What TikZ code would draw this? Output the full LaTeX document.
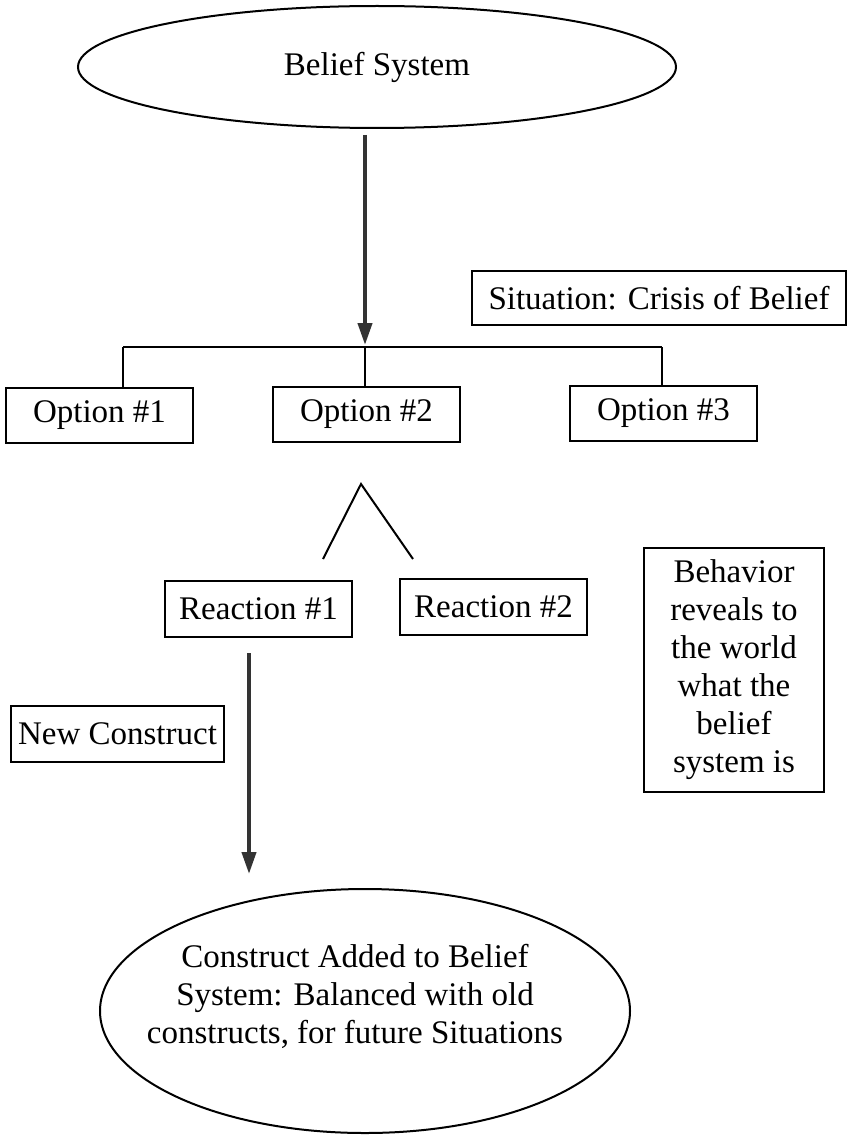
\documentclass[tikz,border=0pt]{standalone}
\usepackage{fontspec}
\setmainfont{Liberation Serif}
\usetikzlibrary{shapes.geometric,arrows.meta}
\definecolor{arrowgray}{HTML}{333333}
\begin{document}
\begin{tikzpicture}[x=1pt,y=-1pt,
  every node/.style={font=\fontsize{33}{38}\selectfont, inner sep=0pt},
  box/.style={draw, line width=2pt, rectangle, align=center},
  oval/.style={draw, line width=2pt, ellipse, align=center},
  conn/.style={line width=2pt},
  bigarrow/.style={line width=4pt, draw=arrowgray, -{Triangle[length=22pt,width=14pt]}, arrowgray}]
\fill[white] (0,0) rectangle (851,1137);
\useasboundingbox (0,0) rectangle (851,1137);

% nodes
\node[oval, minimum width=598pt, minimum height=122pt] (belief) at (377,67) {Belief System};
\node[box, minimum width=374pt, minimum height=54pt] (situation) at (659,298) {Situation: Crisis of Belief};
\node[box, minimum width=187pt, minimum height=55pt] (opt1) at (99.5,415.5) {Option \#1};
\node[box, minimum width=187pt, minimum height=55pt] (opt2) at (366.5,414.5) {Option \#2};
\node[box, minimum width=187pt, minimum height=55pt] (opt3) at (663.5,413.5) {Option \#3};
\node[box, minimum width=187pt, minimum height=56pt] (react1) at (258.5,609) {Reaction \#1};
\node[box, minimum width=187pt, minimum height=56pt] (react2) at (493.5,607) {Reaction \#2};
\node[box, minimum width=213pt, minimum height=56pt] (newc) at (117.5,734) {New Construct};
\node[box, minimum width=180pt, minimum height=244pt] (behav) at (734,670)
  {Behavior\\reveals to\\the world\\what the\\belief\\system is};
\node[oval, minimum width=530pt, minimum height=244pt] (added) at (365,1011) {};
\node[align=center] (addedtext) at (355,996)
  {Construct Added to Belief\\System: Balanced with old\\constructs, for future Situations};

% coordinates
\coordinate (a1s) at (365,135);
\coordinate (a1e) at (365,345);
\coordinate (busL) at (123,347);
\coordinate (busM) at (365,347);
\coordinate (busR) at (662,347);
\coordinate (apex) at (361,484);
\coordinate (trL) at (323,559);
\coordinate (trR) at (413,559);
\coordinate (a2s) at (249,653);
\coordinate (a2e) at (249,874);

% connectors
\draw[conn] (busL) -- (busR);
\draw[conn] (busL) -- (busL |- opt1.north);
\draw[conn] (busM) -- (busM |- opt2.north);
\draw[conn] (busR) -- (busR |- opt3.north);
\draw[bigarrow] (a1s) -- (a1e);
\draw[conn] (trL) -- (apex) -- (trR);
\draw[bigarrow] (a2s) -- (a2e);
\end{tikzpicture}
\end{document}
